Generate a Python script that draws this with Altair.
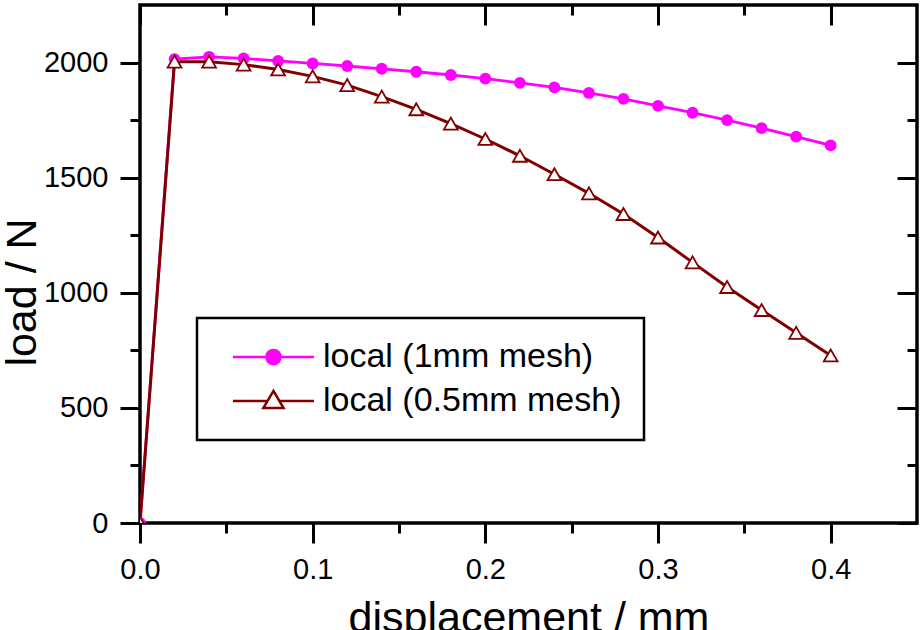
import altair as alt
import pandas as pd

# ---- data ----
disp = [0.00, 0.02, 0.04, 0.06, 0.08, 0.10, 0.12, 0.14, 0.16, 0.18, 0.20,
        0.22, 0.24, 0.26, 0.28, 0.30, 0.32, 0.34, 0.36, 0.38, 0.40]
load_1mm = [0, 2015, 2025, 2018, 2007, 1996, 1985, 1973, 1960, 1946, 1930,
            1912, 1892, 1868, 1842, 1812, 1782, 1750, 1715, 1678, 1640]
load_05mm = [0, 2004, 2004, 1991, 1970, 1940, 1902, 1852, 1797, 1735, 1668,
             1595, 1515, 1432, 1342, 1240, 1132, 1025, 925, 826, 728]
S1 = "local (1mm mesh)"
S2 = "local (0.5mm mesh)"

X_MAJOR = [0.0, 0.1, 0.2, 0.3, 0.4]
X_MINOR = [0.05, 0.15, 0.25, 0.35]
Y_MAJOR = [0, 500, 1000, 1500, 2000]
Y_MINOR = [250, 750, 1250, 1750]

df = pd.DataFrame({
    "x": disp + disp,
    "y": load_1mm + load_05mm,
    "series": [S1] * len(disp) + [S2] * len(disp),
})

FONT = "Liberation Sans"
MAGENTA = "#ff00ff"
BROWN = "#800000"

xscale = alt.Scale(domain=[0, 0.45], nice=False, zero=False)
yscale = alt.Scale(domain=[0, 2250], nice=False, zero=False)

common_axis = dict(domain=False, grid=False, tickColor="black", tickWidth=3)


def ax_plain(orient, values, size, offset):
    return alt.Axis(orient=orient, values=values, tickSize=size, offset=offset,
                    labels=False, title=None, **common_axis)


ax_bottom = alt.Axis(orient="bottom", values=X_MAJOR, format=".1f", tickSize=20,
                     labelFont=FONT, labelFontSize=29, labelColor="black",
                     labelPadding=12, labelFlush=False, labelOverlap=False,
                     title="displacement / mm", titleFont=FONT, titleFontSize=43,
                     titleFontWeight="normal", titleColor="black",
                     titleY=108, titleBaseline="alphabetic", **common_axis)
ax_left = alt.Axis(orient="left", values=Y_MAJOR, format="d", tickSize=20,
                   labelFont=FONT, labelFontSize=29, labelColor="black",
                   labelPadding=12, labelFlush=False, labelOverlap=False,
                   title="load / N", titleFont=FONT, titleFontSize=43,
                   titleFontWeight="normal", titleColor="black",
                   titleAngle=270, titleX=-105, titleY=287,
                   titleAlign="center", titleBaseline="alphabetic", **common_axis)

base = alt.Chart(df)
d1 = base.transform_filter(alt.datum.series == S1)
d2 = base.transform_filter(alt.datum.series == S2)

line1 = d1.mark_line(color=MAGENTA, strokeWidth=2.8, clip=True).encode(
    x=alt.X("x:Q", scale=xscale, axis=ax_bottom),
    y=alt.Y("y:Q", scale=yscale, axis=ax_left),
)
line2 = d2.mark_line(color=BROWN, strokeWidth=3, clip=True).encode(
    x=alt.X("x:Q", scale=xscale, axis=ax_plain("bottom", X_MINOR, 10, 0)),
    y=alt.Y("y:Q", scale=yscale, axis=ax_plain("left", Y_MINOR, 10, 0)),
)
pts1 = d1.mark_point(shape="circle", filled=True, fill=MAGENTA, stroke=MAGENTA,
                     strokeWidth=0, size=140, opacity=1, clip=True).encode(
    x=alt.X("x:Q", scale=xscale, axis=ax_plain("top", X_MAJOR, 20, -20)),
    y=alt.Y("y:Q", scale=yscale, axis=ax_plain("right", Y_MAJOR, 20, -20)),
)
pts2 = d2.mark_point(shape="triangle-up", filled=True, fill="white", stroke=BROWN,
                     strokeWidth=1.8, size=190, opacity=1, clip=True).encode(
    x=alt.X("x:Q", scale=xscale, axis=ax_plain("top", X_MINOR, 10, -10)),
    y=alt.Y("y:Q", scale=yscale, axis=ax_plain("right", Y_MINOR, 10, -10)),
)

# legend symbols: a line segment with the marker in the middle
P1 = ("M-0.3,0H7.7M3.0,0A0.7,0.7,0,1,0,4.4,0A0.7,0.7,0,1,0,3.0,0Z")
P2 = ("M-0.3,0H3.11M4.29,0H7.7M3.7,-1L4.7,0.7L2.7,0.7Z")

leg = alt.Legend(title=None, orient="none", legendX=57, legendY=313,
                 padding=22, strokeColor="black",
                 labelFont=FONT, labelFontSize=34, labelColor="black",
                 labelLimit=0, labelOffset=70, rowPadding=10,
                 symbolSize=410, symbolStrokeWidth=2.5, symbolOpacity=1)

legend_layer = base.transform_filter("datum.x > 1").mark_point(
    filled=True, opacity=1, size=410, strokeWidth=2.5).encode(
    x=alt.X("x:Q", scale=xscale, axis=None),
    y=alt.Y("y:Q", scale=yscale, axis=None),
    shape=alt.Shape("series:N", scale=alt.Scale(domain=[S1, S2], range=[P1, P2]), legend=leg),
    fill=alt.Fill("series:N", scale=alt.Scale(domain=[S1, S2], range=[MAGENTA, "white"]), legend=leg),
    stroke=alt.Stroke("series:N", scale=alt.Scale(domain=[S1, S2], range=[MAGENTA, BROWN]), legend=leg),
)

chart = alt.layer(line1, line2, pts1, pts2, legend_layer).resolve_axis(
    x="independent", y="independent"
).properties(
    width=777, height=518,
    autosize=alt.AutoSizeParams(type="none"),
    padding={"left": 140, "top": 5, "right": 5, "bottom": 107},
    background="white",
).configure_view(
    stroke="black", strokeWidth=3.5
).configure_legend(
    strokeWidth=2.5
)

chart.save("out.html", embed_options={"renderer": "svg", "actions": False})
